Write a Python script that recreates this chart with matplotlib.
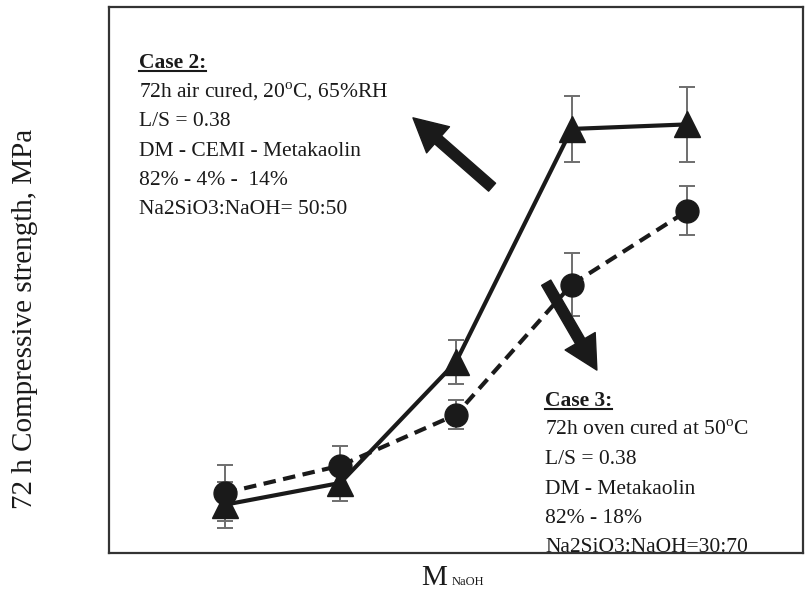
import matplotlib
matplotlib.use("Agg")
import matplotlib.pyplot as plt
from matplotlib.lines import Line2D
from matplotlib.transforms import IdentityTransform

plt.rcParams["font.family"] = ["Liberation Serif", "DejaVu Serif"]
plt.rcParams["mathtext.fontset"] = "custom"
plt.rcParams["mathtext.rm"] = "Liberation Serif"

# NaOH molarity
molarity = [2, 4, 6, 8, 10]

# Case 2: air cured (triangles, solid line)
case2_strength = [5.3, 7.7, 21.0, 46.6, 47.1]
case2_err = [2.5, 2.0, 2.4, 3.6, 4.1]

# Case 3: oven cured (circles, dashed line)
case3_strength = [6.6, 9.6, 15.2, 29.5, 37.6]
case3_err = [3.1, 2.2, 1.6, 3.5, 2.7]

case2_lines = ["72h air cured, 20$^{\\mathrm{o}}$C, 65%RH", "L/S = 0.38",
               "DM - CEMI - Metakaolin", "82% - 4% -  14%",
               "Na2SiO3:NaOH= 50:50"]
case3_lines = ["72h oven cured at 50$^{\\mathrm{o}}$C", "L/S = 0.38",
               "DM - Metakaolin", "82% - 18%", "Na2SiO3:NaOH=30:70"]

W, H = 805, 590
fig = plt.figure(figsize=(W / 100, H / 100), dpi=100)
ax = fig.add_axes([109 / W, 1 - 553 / H, 694 / W, 546 / H])

ink = "#1a1a1a"
errc = "#6e6e6e"

ax.errorbar(molarity, case3_strength, yerr=case3_err, fmt="none",
            ecolor=errc, elinewidth=1.4, capsize=6, capthick=1.4, zorder=2)
ax.errorbar(molarity, case2_strength, yerr=case2_err, fmt="none",
            ecolor=errc, elinewidth=1.4, capsize=6, capthick=1.4, zorder=2)
ax.plot(molarity, case3_strength, color=ink, lw=3, dashes=(3.0, 1.8),
        marker="o", markersize=16.5, zorder=3)
ax.plot(molarity, case2_strength, color=ink, lw=3, ls="-",
        marker="^", markersize=18.5, zorder=4)

ax.set_xlim(0, 12)
ax.set_ylim(0, 60)
ax.set_xticks([])
ax.set_yticks([])
for s in ax.spines.values():
    s.set_color("#333333")
    s.set_linewidth(1.6)

fs = 15.5
step = 29.2


def block(x_px, base_px, title, lines):
    t = fig.text(x_px / W, 1 - base_px / H, title, fontsize=fs,
                 fontweight="bold", va="baseline", ha="left", color=ink)
    for i, line in enumerate(lines):
        fig.text(x_px / W, 1 - (base_px + step * (i + 1)) / H, line,
                 fontsize=fs, va="baseline", ha="left", color=ink)
    return t


t2 = block(139, 68, "Case 2:", case2_lines)
t3 = block(545, 406, "Case 3:", case3_lines)

arrow = dict(arrowstyle="simple,head_length=1.2,head_width=1.25,tail_width=0.38",
             color=ink, shrinkA=0, shrinkB=0, mutation_scale=20)
ax.annotate("", xy=(0.438, 0.797), xytext=(0.552, 0.670),
            xycoords="axes fraction", textcoords="axes fraction", arrowprops=arrow)
ax.annotate("", xy=(0.703, 0.335), xytext=(0.630, 0.495),
            xycoords="axes fraction", textcoords="axes fraction", arrowprops=arrow)

fig.text(25 / W, 1 - 318.5 / H, "72 h Compressive strength, MPa", fontsize=21,
         rotation=90, ha="center", va="center", color=ink)
fig.text(421 / W, 5 / H, "M", fontsize=21, ha="left", va="baseline", color=ink)
fig.text(452 / W, 5 / H, "NaOH", fontsize=9, ha="left", va="baseline", color=ink)

# underline the case titles
fig.canvas.draw()
renderer = fig.canvas.get_renderer()
for t in (t2, t3):
    bb = t.get_window_extent(renderer)
    x0, x1 = bb.x0, bb.x1
    _, yb = fig.transFigure.transform(t.get_position())
    fig.add_artist(Line2D([x0, x1], [yb - 3, yb - 3], color=ink, lw=1.5,
                          transform=IdentityTransform()))

fig.savefig("out.png", dpi=100)
